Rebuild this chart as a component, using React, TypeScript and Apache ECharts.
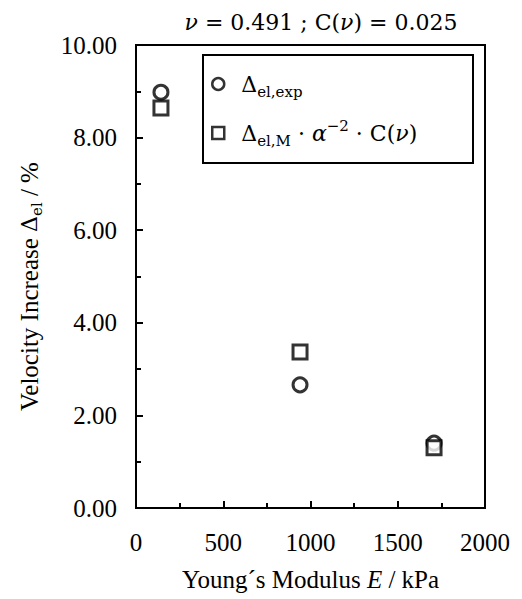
import React, { useEffect, useRef } from "react";
import * as echarts from "echarts";

const youngsModulus = [143, 940, 1708];
const deltaExp = [8.98, 2.66, 1.40];
const deltaModel = [8.64, 3.37, 1.30];
const seriesNames = ["exp", "model"];

const SERIF = "'Liberation Serif', 'Times New Roman', serif";
const MATH = "'DejaVu Serif', serif";
const FS = 25;

export default function App() {
  const ref = useRef<HTMLDivElement>(null);
  useEffect(() => {
    if (!ref.current) return;
    const chart = echarts.init(ref.current, null, { renderer: "svg" });
    const mk = (ys: number[]) => youngsModulus.map((x, i) => [x, ys[i]]);
    const t = (extra: any = {}) => ({ fontFamily: SERIF, fontSize: FS, color: "#000", fontWeight: "normal", ...extra });
    const m = (extra: any = {}) => ({ fontFamily: MATH, fontSize: 22, color: "#000", fontWeight: "normal", ...extra });
    chart.setOption({
      animation: false,
      backgroundColor: "#fff",
      textStyle: { fontFamily: SERIF, fontWeight: "normal" },
      title: {
        text: "{i|ν}{n| = 0.491 ; C(}{i|ν}{n|) = 0.025}",
        left: 316,
        textAlign: "center",
        top: 2,
        textStyle: {
          fontFamily: MATH,
          fontWeight: "normal",
          fontSize: 22,
          rich: {
            n: m({ lineHeight: 30 }),
            i: m({ fontStyle: "italic", lineHeight: 30 }),
          },
        },
      },
      grid: {
        left: 136,
        right: 37,
        top: 45,
        bottom: 91,
        show: true,
        borderColor: "#000",
        borderWidth: 2,
      },
      legend: {
        data: seriesNames,
        orient: "vertical",
        left: 211,
        top: 73,
        itemWidth: 12,
        itemHeight: 12,
        itemGap: 19,
        padding: 0,
        itemStyle: { borderWidth: 2.5 },
        formatter: (name: string) =>
          name === "exp"
            ? "{D|Δ}{s|el,exp}"
            : "{D|Δ}{s|el,M}{d| · }{i|α}{p|−2}{d| · C(}{i|ν}{d|)}",
        textStyle: {
          fontFamily: MATH,
          fontWeight: "normal",
          rich: {
            D: m({ lineHeight: 30, verticalAlign: "middle", padding: [0, 0, 0, 12] }),
            d: m({ lineHeight: 30, verticalAlign: "middle" }),
            i: m({ fontStyle: "italic", lineHeight: 30, verticalAlign: "middle" }),
            s: m({ fontSize: 15, lineHeight: 15, verticalAlign: "bottom" }),
            p: m({ fontSize: 15, lineHeight: 15, verticalAlign: "top" }),
          },
        },
      },
      graphic: [
        {
          type: "rect",
          shape: { x: 203, y: 55, width: 270, height: 108 },
          style: { fill: "none", stroke: "#000", lineWidth: 2 },
          z: 10,
        },
      ],
      xAxis: {
        type: "value",
        min: 0,
        max: 2000,
        interval: 500,
        name: "{n|Young´s Modulus }{i|E}{n| / kPa}",
        nameLocation: "middle",
        nameGap: 56,
        nameTextStyle: {
          fontFamily: SERIF,
          fontSize: FS,
          rich: {
            n: t({ lineHeight: 30, verticalAlign: "middle" }),
            i: t({ fontStyle: "italic", lineHeight: 30, verticalAlign: "middle" }),
          },
        },
        axisLine: { show: true, lineStyle: { color: "#000", width: 2 } },
        axisTick: { show: true, inside: true, length: 7, lineStyle: { color: "#000", width: 2 } },
        minorTick: { show: true, splitNumber: 2, length: 5, lineStyle: { color: "#000", width: 2 } },
        splitLine: { show: false },
        axisLabel: {
          fontFamily: SERIF,
          fontSize: FS,
          color: "#000",
          margin: 22,
          formatter: (v: number) => String(v),
        },
      },
      yAxis: {
        type: "value",
        min: 0,
        max: 10,
        interval: 2,
        name: "{n|Velocity Increase }{d|Δ}{s|el}{e| / %}",
        nameLocation: "middle",
        nameRotate: 90,
        nameGap: 92,
        nameTextStyle: {
          fontFamily: SERIF,
          fontSize: FS,
          rich: {
            n: t({ lineHeight: 30, verticalAlign: "middle" }),
            e: t({ lineHeight: 30, verticalAlign: "middle", padding: [0, 20, 0, 0] }),
            d: m({ lineHeight: 30, verticalAlign: "middle" }),
            s: m({ fontSize: 15, lineHeight: 15, verticalAlign: "bottom" }),
          },
        },
        axisLine: { show: true, lineStyle: { color: "#000", width: 2 } },
        axisTick: { show: true, inside: true, length: 7, lineStyle: { color: "#000", width: 2 } },
        minorTick: { show: true, splitNumber: 2, length: 5, lineStyle: { color: "#000", width: 2 } },
        splitLine: { show: false },
        axisLabel: {
          fontFamily: SERIF,
          fontSize: FS,
          color: "#000",
          margin: 19,
          formatter: (v: number) => v.toFixed(2),
        },
      },
      series: [
        {
          name: "exp",
          type: "scatter",
          symbol: "circle",
          symbolSize: 14,
          itemStyle: { color: "#fff", borderColor: "#000", borderWidth: 3 },
          data: mk(deltaExp),
          z: 2,
        },
        {
          name: "model",
          type: "scatter",
          symbol: "rect",
          symbolSize: 14,
          itemStyle: { color: "#fff", borderColor: "#000", borderWidth: 3 },
          data: mk(deltaModel),
          z: 3,
        },
      ],
    });
    return () => chart.dispose();
  }, []);
  return <div ref={ref} style={{ width: 522, height: 599, position: "absolute", left: 0, top: 0 }} />;
}
